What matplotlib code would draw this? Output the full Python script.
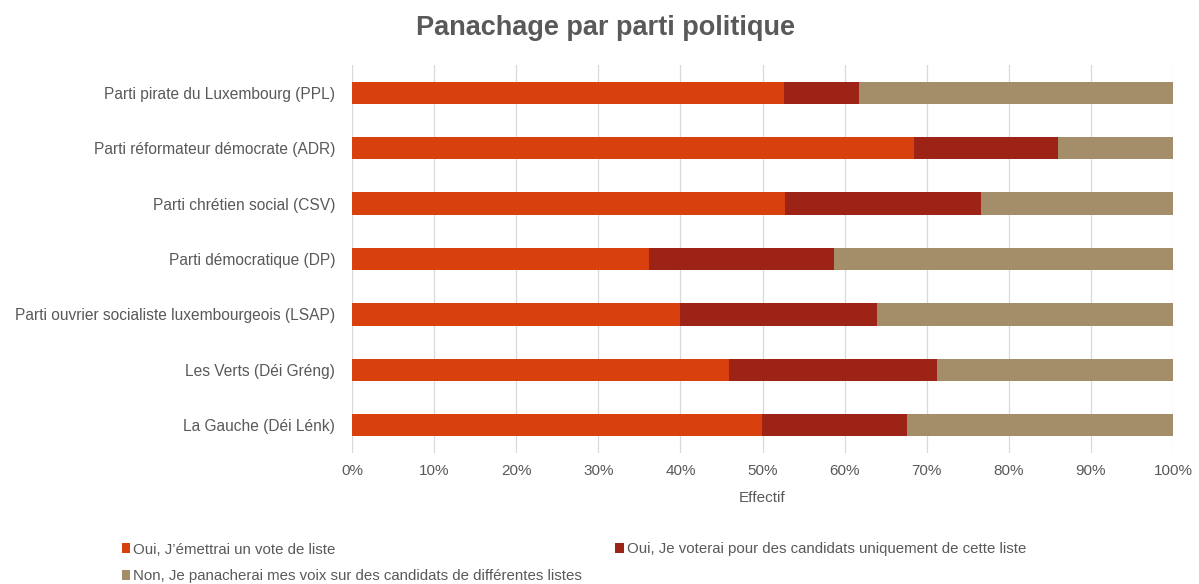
import numpy as np
import matplotlib.pyplot as plt
from matplotlib.patches import Patch
from matplotlib.ticker import MultipleLocator, PercentFormatter

plt.rcParams.update({
    "font.family": ["Liberation Sans", "DejaVu Sans"],
    "text.color": "#595959",
    "axes.labelcolor": "#595959",
    "xtick.color": "#595959",
    "ytick.color": "#595959",
})

# data (shares in %)
partis = [
    "Parti pirate du Luxembourg (PPL)",
    "Parti réformateur démocrate (ADR)",
    "Parti chrétien social (CSV)",
    "Parti démocratique (DP)",
    "Parti ouvrier socialiste luxembourgeois (LSAP)",
    "Les Verts (Déi Gréng)",
    "La Gauche (Déi Lénk)",
]
vote_liste = [52.6, 68.4, 52.7, 36.2, 39.9, 45.9, 49.9]
candidats_liste = [9.1, 17.6, 23.9, 22.5, 24.1, 25.3, 17.7]
panachage = [100 - a - b for a, b in zip(vote_liste, candidats_liste)]

series_labels = [
    "Oui, J\u2019émettrai un vote de liste",
    "Oui, Je voterai pour des candidats uniquement de cette liste",
    "Non, Je panacherai mes voix sur des candidats de différentes listes",
]
colors = ["#D8400E", "#9E2317", "#A48D69"]

fig = plt.figure(figsize=(11.99, 5.84), dpi=100)
ax = fig.add_axes([352 / 1199, 1 - 453 / 584, (1173 - 352) / 1199, (453 - 65) / 584])

y = np.arange(len(partis))
left = np.zeros(len(partis))
for vals, col in zip([vote_liste, candidats_liste, panachage], colors):
    ax.barh(y, vals, left=left, height=0.4, color=col, zorder=3)
    left += np.array(vals)

ax.set_ylim(len(partis) - 0.5, -0.5)
ax.set_yticks(y)
ax.set_yticklabels(partis, fontsize=11.2)
ax.set_xlim(0, 100)
ax.xaxis.set_major_locator(MultipleLocator(10))
ax.xaxis.set_major_formatter(PercentFormatter(decimals=0))
ax.tick_params(axis="x", length=0, labelsize=11, pad=8)
ax.tick_params(axis="y", length=0, pad=12)
ax.grid(True, axis="x", color="#D9D9D9", linewidth=0.9, zorder=0)
for s in ax.spines.values():
    s.set_visible(False)
ax.set_xlabel("Effectif", fontsize=11, labelpad=9)

fig.suptitle("Panachage par parti politique", x=0.505, y=0.975, fontsize=19.5,
             fontweight="bold", color="#595959")

handles = [Patch(facecolor=c, label=l) for c, l in zip(colors, series_labels)]
order = [0, 2, 1]
fig.legend([handles[i] for i in order], [series_labels[i] for i in order],
           ncol=2, loc="upper left", bbox_to_anchor=(108 / 1199, 1 - 529 / 584),
           frameon=False, fontsize=10.8, handlelength=0.58, handleheight=0.62,
           handletextpad=0.2, columnspacing=2.2, labelspacing=0.85)

fig.savefig("out.png", dpi=100)
